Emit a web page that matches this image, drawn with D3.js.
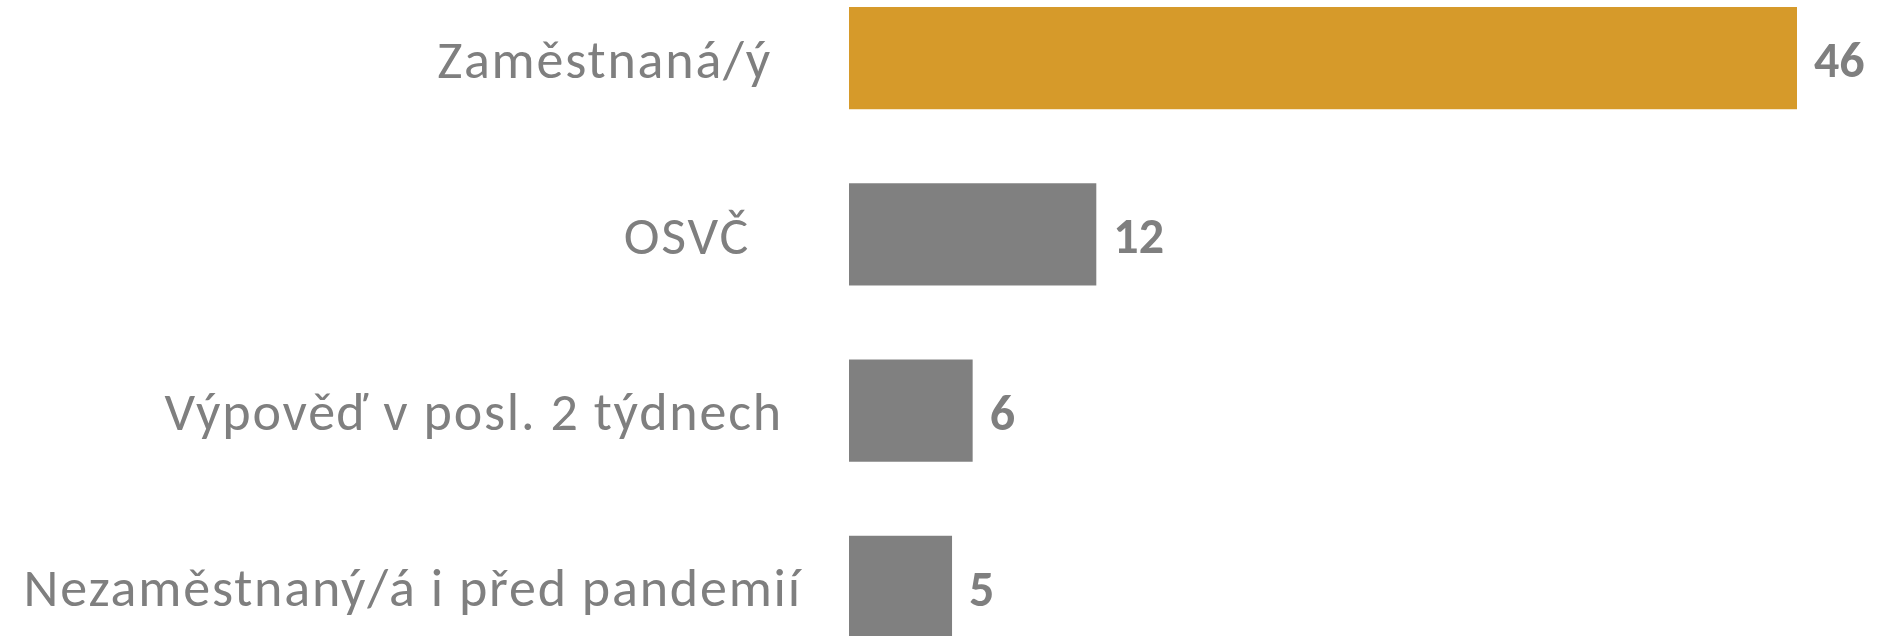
<!DOCTYPE html>
<html>
<head>
<meta charset="utf-8">
<script src="https://cdn.jsdelivr.net/npm/d3@7"></script>
<style>
  body { margin: 0; background: #fff; }
  svg { display: block; }
</style>
</head>
<body>
<svg id="chart"></svg>
<script>
// data
let categories = ["Zaměstnaná/ý", "OSVČ", "Výpověď v posl. 2 týdnech", "Nezaměstnaný/á i před pandemií"]
let values = [46, 12, 6, 5]
let highlight = ["Zaměstnaná/ý"]

// colors
let gold = "#d69a2a"
let grey = "#808080"
let textGrey = "#7f7f7f"

let width = 1877,
    height = 636;

let svg = d3.select("#chart")
    .attr("width", width)
    .attr("height", height);

let xScale = d3.scaleLinear()
    .domain([0, 46])
    .range([849, 1797]);

let yScale = d3.scaleBand()
    .domain(categories)
    .range([-30, 675])
    .paddingInner(0.42)
    .paddingOuter(0.21);

// labels in the original don't share one right edge
let labelInset = [30, 52, 19, 0];

svg.selectAll("rect.bar")
    .data(categories)
    .enter().append("rect")
    .attr("class", "bar")
    .attr("x", xScale(0))
    .attr("y", d => yScale(d))
    .attr("width", (d, i) => xScale(values[i]) - xScale(0))
    .attr("height", yScale.bandwidth())
    .attr("fill", d => highlight.includes(d) ? gold : grey);

svg.selectAll("text.cat")
    .data(categories)
    .enter().append("text")
    .attr("class", "cat")
    .attr("x", (d, i) => xScale(0) - 47 - labelInset[i])
    .attr("y", d => yScale(d) + yScale.bandwidth() / 2)
    .attr("dy", "0.36em")
    .attr("text-anchor", "end")
    .style("font-family", "Carlito, Lato, sans-serif")
    .style("font-size", "54px")
    .style("letter-spacing", "1.8px")
    .style("fill", textGrey)
    .text(d => d);

svg.selectAll("text.val")
    .data(categories)
    .enter().append("text")
    .attr("class", "val")
    .attr("x", (d, i) => xScale(values[i]) + 17)
    .attr("y", d => yScale(d) + yScale.bandwidth() / 2)
    .attr("dy", "0.38em")
    .style("font-family", "Carlito, Lato, sans-serif")
    .style("font-weight", "bold")
    .style("font-size", "50px")
    .style("fill", textGrey)
    .text((d, i) => values[i]);
</script>
</body>
</html>
